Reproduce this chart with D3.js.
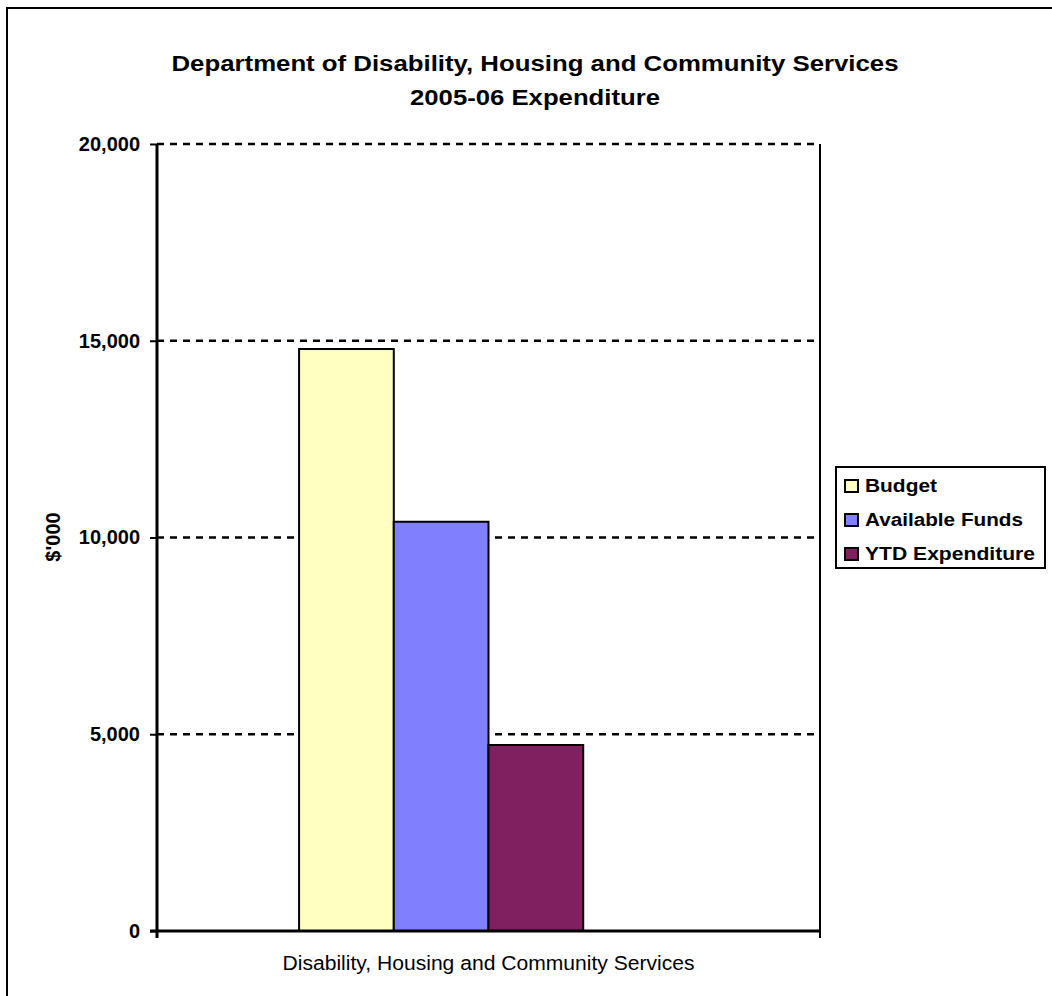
<!DOCTYPE html>
<html>
<head>
<meta charset="utf-8">
<script src="https://cdn.jsdelivr.net/npm/d3@7"></script>
<style>
  body { margin: 0; background: #fff; }
  svg { display: block; font-family: Arial, "Liberation Sans", sans-serif; }
</style>
</head>
<body>
<svg width="1052" height="996"></svg>
<script>
// chart values
var categories = ["Disability, Housing and Community Services"];
var seriesNames = ["Budget", "Available Funds", "YTD Expenditure"];
var seriesColors = ["#FFFFC0", "#8080FF", "#802060"];
var budget = [14790];
var availableFunds = [10400];
var ytdExpenditure = [4727];
var yTicks = [0, 5000, 10000, 15000, 20000];

var values = [budget, availableFunds, ytdExpenditure];

var svg = d3.select("svg"),
    margin = {left: 157, right: 820, top: 144, bottom: 931};

// outer chart border (runs off the right and bottom of the picture)
svg.append("rect")
    .attr("x", 7).attr("y", 8)
    .attr("width", 1100).attr("height", 1050)
    .attr("fill", "#fff")
    .attr("stroke", "#000")
    .attr("stroke-width", 2);

var y = d3.scaleLinear().domain([0, 20000]).range([margin.bottom, margin.top]);

var x0 = d3.scaleBand().domain(categories).range([margin.left, margin.right]);

// Excel leaves an empty fourth slot in the cluster, hence the "" entry
var x1 = d3.scaleBand()
    .domain(seriesNames.concat([""]))
    .range([0, x0.bandwidth()])
    .paddingInner(0)
    .paddingOuter(1.5);

// gridlines
svg.append("g")
  .selectAll("line")
  .data(yTicks.filter(function(d) { return d > 0; }))
  .enter().append("line")
    .attr("x1", margin.left).attr("x2", margin.right)
    .attr("y1", function(d) { return y(d); })
    .attr("y2", function(d) { return y(d); })
    .attr("stroke", "#000")
    .attr("stroke-width", 2.5)
    .attr("stroke-dasharray", "7,6");

// right edge of plot area
svg.append("line")
    .attr("x1", margin.right).attr("x2", margin.right)
    .attr("y1", margin.top).attr("y2", margin.bottom + 7)
    .attr("stroke", "#000")
    .attr("stroke-width", 2);

// bars
seriesNames.forEach(function(name, i) {
  svg.append("g")
    .selectAll("rect")
    .data(values[i])
    .enter().append("rect")
      .attr("x", function(d, j) { return x0(categories[j]) + x1(name); })
      .attr("y", function(d) { return y(d); })
      .attr("width", x1.bandwidth())
      .attr("height", function(d) { return y(0) - y(d); })
      .attr("fill", seriesColors[i])
      .attr("stroke", "#000")
      .attr("stroke-width", 2);
});

// y axis
var yAxis = svg.append("g")
    .attr("transform", "translate(" + margin.left + ",0)")
    .call(d3.axisLeft(y).tickValues(yTicks).tickSize(7).tickPadding(10).tickFormat(d3.format(",")));
yAxis.select(".domain").remove();
yAxis.selectAll(".tick line").attr("stroke", "#000").attr("stroke-width", 2);
yAxis.selectAll("text")
    .attr("fill", "#000")
    .style("font-size", "20px")
    .style("font-weight", "bold");
svg.append("line")
    .attr("x1", margin.left).attr("x2", margin.left)
    .attr("y1", margin.top).attr("y2", margin.bottom + 7)
    .attr("stroke", "#000").attr("stroke-width", 3);

// x axis
svg.append("line")
    .attr("x1", margin.left - 7).attr("x2", margin.right)
    .attr("y1", margin.bottom).attr("y2", margin.bottom)
    .attr("stroke", "#000").attr("stroke-width", 3);

svg.selectAll(".xlabel")
  .data(categories)
  .enter().append("text")
    .attr("x", function(d) { return x0(d) + x0.bandwidth() / 2; })
    .attr("y", 970)
    .attr("text-anchor", "middle")
    .attr("textLength", 412)
    .attr("lengthAdjust", "spacingAndGlyphs")
    .style("font-size", "20px")
    .text(function(d) { return d; });

// y axis title
svg.append("text")
    .attr("transform", "translate(60,537) rotate(-90)")
    .attr("text-anchor", "middle")
    .style("font-size", "20px")
    .style("font-weight", "bold")
    .text("$'000");

// title
var title = svg.append("text")
    .attr("text-anchor", "middle")
    .attr("lengthAdjust", "spacingAndGlyphs")
    .style("font-size", "22px")
    .style("font-weight", "bold");
title.append("tspan").attr("x", 535).attr("y", 71)
    .attr("textLength", 727).attr("lengthAdjust", "spacingAndGlyphs")
    .text("Department of Disability, Housing and Community Services");
title.append("tspan").attr("x", 535).attr("y", 105)
    .attr("textLength", 250).attr("lengthAdjust", "spacingAndGlyphs")
    .text("2005-06 Expenditure");

// legend
var legendWidths = [72, 158, 170];
var legend = svg.append("g").attr("transform", "translate(836,467)");
legend.append("rect")
    .attr("width", 209).attr("height", 101)
    .attr("fill", "#fff")
    .attr("stroke", "#000")
    .attr("stroke-width", 2);

var item = legend.selectAll(".item")
  .data(seriesNames)
  .enter().append("g")
    .attr("transform", function(d, i) { return "translate(8," + (25 + i * 34) + ")"; });
item.append("rect")
    .attr("x", 1).attr("y", -12)
    .attr("width", 13).attr("height", 12)
    .attr("fill", function(d, i) { return seriesColors[i]; })
    .attr("stroke", "#000")
    .attr("stroke-width", 2);
item.append("text")
    .attr("x", 21).attr("y", 0)
    .attr("textLength", function(d, i) { return legendWidths[i]; })
    .attr("lengthAdjust", "spacingAndGlyphs")
    .style("font-size", "18px")
    .style("font-weight", "bold")
    .text(function(d) { return d; });
</script>
</body>
</html>
